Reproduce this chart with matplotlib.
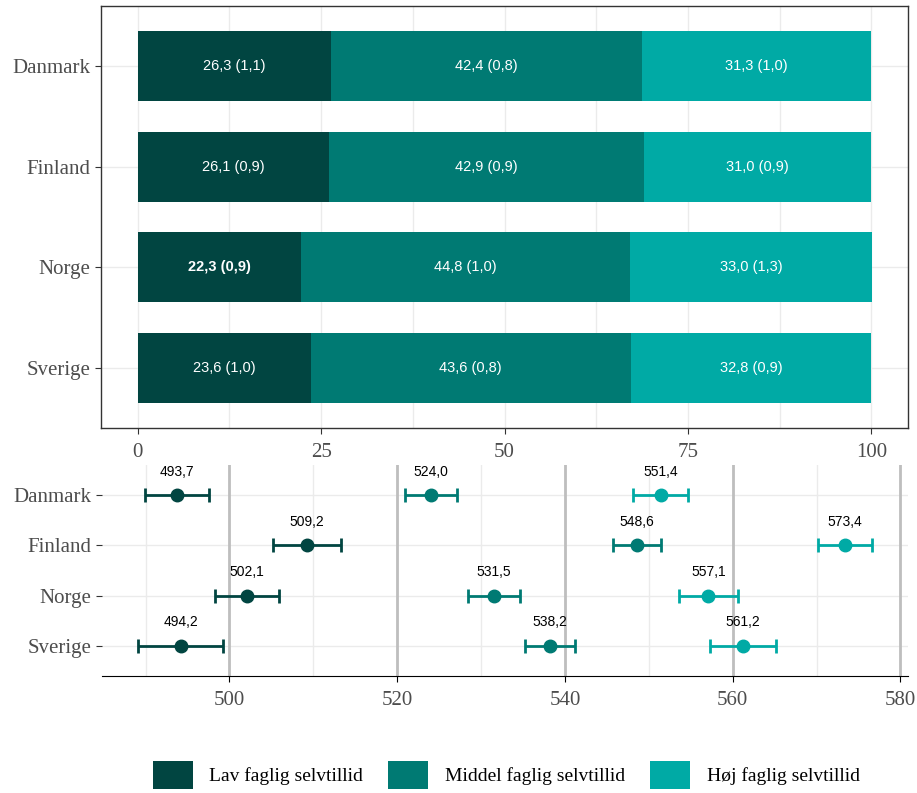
import matplotlib
matplotlib.use("Agg")
import matplotlib.pyplot as plt
from matplotlib.patches import Patch
import numpy as np

# data
lande = ["Danmark", "Finland", "Norge", "Sverige"]
grupper = ["Lav faglig selvtillid", "Middel faglig selvtillid", "Høj faglig selvtillid"]
farver = ["#014541", "#007a73", "#00aaa5"]

andel_lav = [26.3, 26.1, 22.3, 23.6]
andel_mid = [42.4, 42.9, 44.8, 43.6]
andel_hoj = [31.3, 31.0, 33.0, 32.8]
se_lav = [1.1, 0.9, 0.9, 1.0]
se_mid = [0.8, 0.9, 1.0, 0.8]
se_hoj = [1.0, 0.9, 1.3, 0.9]

score_lav = [493.7, 509.2, 502.1, 494.2]
score_mid = [524.0, 548.6, 531.5, 538.2]
score_hoj = [551.4, 573.4, 557.1, 561.2]
ci_lav = [3.8, 4.05, 3.85, 5.05]
ci_mid = [3.1, 2.85, 3.1, 3.0]
ci_hoj = [3.3, 3.2, 3.5, 3.95]

fed = [("Norge", 0)]  # bold label

serif = "Liberation Serif"
sans = "Liberation Sans"
grid_c = "#ebebeb"
txt_c = "#4d4d4d"

def fmt(v):
    return f"{v:.1f}".replace(".", ",")

fig = plt.figure(figsize=(9.17, 7.93), dpi=100)
ax1 = fig.add_axes([101/917, 1-428/793, 807/917, 422/793])
ax2 = fig.add_axes([102/917, 1-676/793, 806/917, 211/793])

ypos = np.array([4, 3, 2, 1])

# top panel: stacked bars
andele = [andel_lav, andel_mid, andel_hoj]
ses = [se_lav, se_mid, se_hoj]
left = np.zeros(4)
for g in range(3):
    vals = np.array(andele[g])
    ax1.barh(ypos, vals, left=left, height=0.7, color=farver[g], zorder=2)
    for i in range(4):
        w = "bold" if (lande[i], g) in fed else "normal"
        ax1.text(left[i] + vals[i] / 2, ypos[i], f"{fmt(vals[i])} ({fmt(ses[g][i])})",
                 ha="center", va="center", color="white", fontsize=10.5,
                 family=sans, fontweight=w, zorder=3)
    left = left + vals

ax1.set_xlim(-5, 105)
ax1.set_ylim(0.4, 4.6)
ax1.set_xticks([0, 25, 50, 75, 100])
ax1.set_xticks([12.5, 37.5, 62.5, 87.5], minor=True)
ax1.set_yticks(ypos)
ax1.set_yticklabels(lande)
ax1.grid(True, which="both", color=grid_c, lw=1, zorder=0)
ax1.set_axisbelow(True)
for s in ax1.spines.values():
    s.set_color("#333333")
    s.set_linewidth(1)
ax1.tick_params(axis="both", which="major", length=4, color="#333333", labelcolor=txt_c, labelsize=15)
ax1.tick_params(axis="x", which="major", pad=7)
ax1.tick_params(axis="x", which="minor", length=0)
for lab in ax1.get_xticklabels() + ax1.get_yticklabels():
    lab.set_family(serif)

# bottom panel: scores with error bars
scores = [score_lav, score_mid, score_hoj]
cis = [ci_lav, ci_mid, ci_hoj]
for v in [500, 520, 540, 560, 580]:
    ax2.axvline(v, color="#bebebe", lw=2, zorder=1)
for g in range(3):
    ax2.errorbar(scores[g], ypos, xerr=cis[g], fmt="o", color=farver[g], ms=9,
                 elinewidth=2, capsize=5, capthick=2, zorder=3)
    for i in range(4):
        ax2.annotate(fmt(scores[g][i]), (scores[g][i], ypos[i]), xytext=(0, 17),
                     textcoords="offset points", ha="center", va="center",
                     fontsize=10, family=sans, color="black", zorder=4)

ax2.set_xlim(484.8, 580.9)
ax2.set_ylim(0.4, 4.6)
ax2.set_xticks([500, 520, 540, 560, 580])
ax2.set_xticks([490, 510, 530, 550, 570], minor=True)
ax2.set_yticks(ypos)
ax2.set_yticklabels(lande)
ax2.grid(True, which="both", color=grid_c, lw=1, zorder=0)
ax2.set_axisbelow(True)
for s in ["top", "right", "left"]:
    ax2.spines[s].set_visible(False)
ax2.spines["bottom"].set_color("black")
ax2.tick_params(axis="y", length=4, color="#333333", labelcolor=txt_c, labelsize=15)
ax2.tick_params(axis="x", which="major", length=4, color="black", labelcolor=txt_c,
                labelsize=15, pad=7)
ax2.tick_params(axis="x", which="minor", length=0)
for lab in ax2.get_xticklabels() + ax2.get_yticklabels():
    lab.set_family(serif)

handles = [Patch(facecolor=farver[g], edgecolor="none", label=grupper[g]) for g in range(3)]
fig.legend(handles=handles, loc="center", bbox_to_anchor=(0.552, 0.023), ncol=3,
           frameon=False, prop={"family": serif, "size": 14}, handlelength=2.05,
           handleheight=1.85, handletextpad=0.85, columnspacing=1.3, borderpad=0)

fig.savefig("out.png", dpi=100)
